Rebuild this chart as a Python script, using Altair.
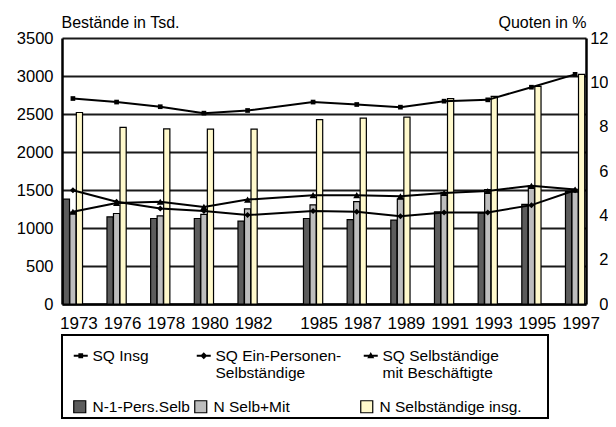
import altair as alt
import pandas as pd

# ---------------- data ----------------
years = ["1973", "1976", "1978", "1980", "1982", "1985", "1987",
         "1989", "1991", "1993", "1995", "1997"]

bar_names = ["N-1-Pers.Selb", "N Selb+Mit", "N Selbständige insg."]
bar_colors = ["#5c5c5c", "#bdbdbd", "#fff9cc"]
n_einpers = [1380, 1147, 1125, 1125, 1090, 1125, 1110, 1103, 1212, 1195, 1310, 1480]
n_mitbesch = [1210, 1191, 1160, 1180, 1252, 1305, 1348, 1380, 1465, 1505, 1550, 1510]
n_insg = [2520, 2325, 2303, 2300, 2300, 2425, 2447, 2460, 2701, 2732, 2863, 3021]

line_names = ["SQ Insg", "SQ Ein-Personen-Selbständige", "SQ Selbständige mit Beschäftigte"]
line_label_lines = [["SQ Insg"], ["SQ Ein-Personen-", "Selbständige"],
                    ["SQ Selbständige", "mit Beschäftigte"]]
sq_insg = [9.27, 9.11, 8.90, 8.61, 8.73, 9.11, 9.00, 8.88, 9.15, 9.21, 9.78, 10.36]
sq_einpers = [5.13, 4.61, 4.31, 4.20, 4.01, 4.20, 4.16, 3.96, 4.13, 4.13, 4.46, 5.13]
sq_mitbesch = [4.16, 4.56, 4.61, 4.38, 4.71, 4.91, 4.91, 4.86, 5.01, 5.10, 5.33, 5.16]

left_ticks = [0, 500, 1000, 1500, 2000, 2500, 3000, 3500]
right_ticks = [0, 2, 4, 6, 8, 10, 12]

# ---------------- tables ----------------
bar_df = pd.DataFrame(
    [(y, s, v) for s, vals in zip(bar_names, [n_einpers, n_mitbesch, n_insg])
     for y, v in zip(years, vals)],
    columns=["year", "series", "value"],
)
line_df = pd.DataFrame(
    [(y, s, v) for s, vals in zip(line_names, [sq_insg, sq_einpers, sq_mitbesch])
     for y, v in zip(years, vals)],
    columns=["year", "series", "value"],
)

# category slots: one spacer after every year, a wider gap after 1982
slots = []
for i, yr in enumerate(years):
    slots.append(yr)
    if i < len(years) - 1:
        slots.append(f"gap{i}a")
    if yr == "1982":
        slots.append(f"gap{i}b")

FONT = "Liberation Sans"
LEG_FS = 15.5

x_scale = alt.Scale(domain=slots, paddingInner=0, paddingOuter=0)
x_axis = alt.Axis(values=years, title=None, ticks=False, grid=False, labelAngle=0,
                  labelOffset=6, labelPadding=11, labelFontSize=17,
                  labelOverlap=False, domainColor="black", domainWidth=2.5)

left_axis = alt.Axis(values=left_ticks, format="d", ticks=False, grid=True,
                     gridColor="#1a1a1a", gridWidth=2, domainColor="black", domainWidth=2.5,
                     labelFontSize=16.5, labelPadding=9,
                     title="Bestände in Tsd.", titleAngle=0, titleAlign="left",
                     titleBaseline="alphabetic", titleX=-1, titleY=-11,
                     titleFontSize=16, titleFontWeight="normal")

right_axis = alt.Axis(orient="right", values=right_ticks, format="d", ticks=False, grid=False,
                      domainColor="black", domainWidth=2.5,
                      labelFontSize=16.5, labelPadding=22, labelAlign="right",
                      title="Quoten in %", titleAngle=0, titleAlign="right",
                      titleBaseline="alphabetic", titleX=0, titleY=-11,
                      titleFontSize=16, titleFontWeight="normal")

bars = alt.Chart(bar_df).mark_bar(stroke="black", strokeWidth=1.2).encode(
    x=alt.X("year:N", scale=x_scale, axis=x_axis, sort=None),
    xOffset=alt.XOffset("series:N", sort=bar_names,
                        scale=alt.Scale(domain=bar_names, paddingInner=0.05, paddingOuter=0.2)),
    y=alt.Y("value:Q", scale=alt.Scale(domain=[0, 3500], nice=False), axis=left_axis),
    fill=alt.Fill("series:N", scale=alt.Scale(domain=bar_names, range=bar_colors), legend=None),
)

y_right = alt.Y("value:Q", scale=alt.Scale(domain=[0, 12], nice=False), axis=right_axis)
x_line = alt.X("year:N", scale=x_scale, axis=x_axis, sort=None)

lines = alt.Chart(line_df).mark_line(color="black", strokeWidth=2).encode(
    x=x_line, y=y_right, detail="series:N",
)

points = alt.Chart(line_df).mark_point(filled=True, color="black", opacity=1).encode(
    x=x_line, y=y_right,
    shape=alt.Shape("series:N", scale=alt.Scale(domain=line_names,
                                                range=["square", "diamond", "triangle-up"]),
                    legend=None),
    size=alt.Size("series:N", scale=alt.Scale(domain=line_names, range=[22, 50, 45]),
                  legend=None),
)

right_layer = alt.layer(lines, points)

# ---------------- legend (one native legend per entry, so each can be placed) ----------
sym_paths = [
    "M-1,-0.14H1V0.14H-1ZM-0.34,-0.34H0.34V0.34H-0.34Z",
    "M-1,-0.14H1V0.14H-1ZM0,-0.5L0.5,0L0,0.5L-0.5,0Z",
    "M-1,-0.14H1V0.14H-1ZM0,-0.55L0.5,0.35L-0.5,0.35Z",
]
line_leg_x = [11, 134, 301]
bar_leg_x = [10, 131, 297]


def line_legend(i):
    expr = "[" + ", ".join("'" + t + "'" for t in line_label_lines[i]) + "]"
    return alt.Chart(line_df).transform_filter("false").mark_point(
        filled=True, color="black", opacity=1).encode(
        shape=alt.Shape("series:N",
                        scale=alt.Scale(domain=[line_names[i]], range=[sym_paths[i]]),
                        legend=alt.Legend(orient="none", legendX=line_leg_x[i], legendY=310,
                                          symbolSize=196, symbolFillColor="black",
                                          symbolStrokeColor="black", symbolStrokeWidth=0,
                                          symbolOpacity=1, labelFontSize=LEG_FS, labelLimit=400,
                                          labelOffset=4, labelBaseline="middle", title=None,
                                          labelExpr=expr)),
    )


def bar_legend(i):
    return alt.Chart(bar_df).transform_filter("false").mark_point(
        shape="square", filled=True, stroke="black", strokeWidth=1.2, opacity=1).encode(
        fill=alt.Fill("series:N",
                      scale=alt.Scale(domain=[bar_names[i]], range=[bar_colors[i]]),
                      legend=alt.Legend(orient="none", legendX=bar_leg_x[i], legendY=361,
                                        symbolType="square", symbolSize=144,
                                        symbolStrokeColor="black", symbolStrokeWidth=1.2,
                                        symbolOpacity=1, labelFontSize=LEG_FS, labelLimit=400,
                                        labelOffset=5, title=None)),
    )


box = alt.Chart(alt.Data(values=[{}])).mark_rect(
    fill="white", fillOpacity=0, stroke="black", strokeWidth=2).encode(
    x=alt.value(0), x2=alt.value(486), y=alt.value(297), y2=alt.value(380),
)

chart = alt.layer(
    bars, right_layer,
    line_legend(0), line_legend(1), line_legend(2),
    bar_legend(0), bar_legend(1), bar_legend(2),
    box,
).resolve_scale(y="independent", fill="independent", shape="independent").properties(
    width=524, height=266,
    autosize=alt.AutoSizeParams(type="none"),
    padding={"left": 54, "top": 30, "right": 22, "bottom": 115},
).configure(font=FONT).configure_view(stroke=None).configure_axis(
    labelColor="black", titleColor="black", labelFont=FONT, titleFont=FONT,
).configure_legend(labelColor="black", labelFont=FONT, padding=0)

chart.save("out.html", embed_options={"renderer": "svg", "actions": False})
